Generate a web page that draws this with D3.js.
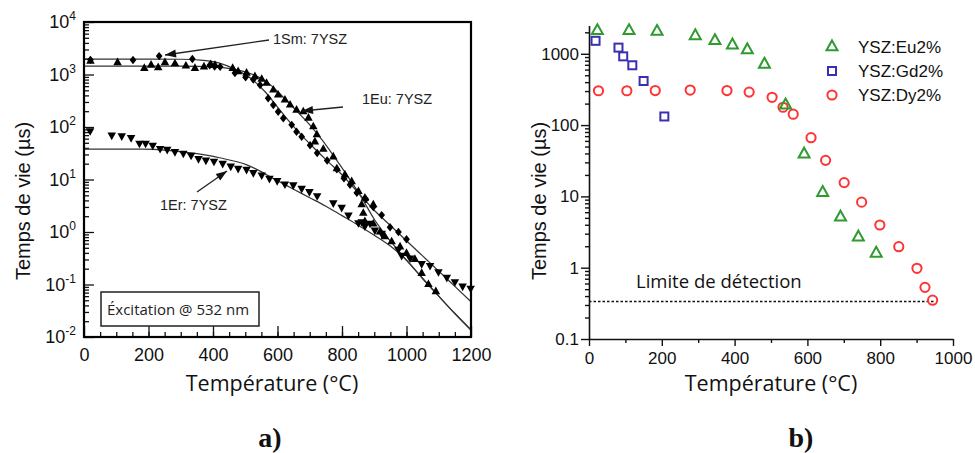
<!DOCTYPE html>
<html><head><meta charset="utf-8">
<script src="https://cdn.jsdelivr.net/npm/d3@7"></script>
<style>body{margin:0;background:#fff}svg{display:block}</style>
</head><body>
<svg id="c" width="975" height="453"></svg>
<script>
// ---------- Panel a data ----------
const smT   = [20,152,233,336,390,405,422,468,501,525,546,571,587,602,618,644,659,675,701,723,754,784,806,825,846,874,897,923,949,975,1000];
const smTau = [1900,1890,2240,1970,1500,1420,1400,1070,885,800,630,352,262,195,147,110,81,65,45,32,23,15.6,10.5,7.9,5.6,4.2,3.0,2.1,1.23,1.0,0.73];
const euT   = [20,104,187,208,230,251,282,316,344,372,393,406,461,478,504,530,551,566,587,602,623,639,659,680,696,711,716,722,742,773,784,809,830,851,861,866,871,871,897,897,918,933,954,980,1000,1026,1047,1068,1091];
const euTau = [1800,1680,1310,1510,1350,1680,1600,1450,1310,1400,1550,1500,1310,1130,1060,910,810,680,507,407,327,262,210,195,147,101,52,71,37.6,27,16,12.2,9.1,5.9,3.3,2.27,4.4,1.57,3.3,1.42,1.0,0.81,0.65,0.52,0.39,0.30,0.163,0.1,0.073];
const erT   = [19,86,117,146,172,191,213,236,258,282,308,332,355,378,403,430,455,478,504,525,551,575,599,623,649,675,699,723,773,799,820,851,861,871,887,902,923,975,985,1011,1047,1073,1099,1125,1150,1174,1199];
const erTau = [85,70,68,63,49,49,45,39,37.6,34,31.6,29,25,23.4,22.3,20.3,18,16.3,15.6,13.5,12.2,10.5,9.5,8.2,7.9,6.8,5.9,4.9,3.6,2.95,2.1,1.5,1.57,1.3,1.47,1.09,0.94,0.47,0.36,0.32,0.25,0.23,0.175,0.137,0.113,0.093,0.085];
const fitSmT   = [0,200,300,360,420,470,520,560,600,640,680,720,760,800,850,900,950,1000,1050,1100,1150,1200];
const fitSmTau = [1970,1970,1950,1880,1650,1250,820,480,240,120,64,36,21,12.3,5.6,2.6,1.33,0.68,0.35,0.18,0.092,0.047];
const fitEuT   = [0,300,400,460,500,540,580,620,660,700,740,780,820,860,900,940,970,1000,1050,1100,1150,1200];
const fitEuTau = [1450,1440,1400,1280,1120,900,620,360,200,110,55,25,11,4.6,1.75,0.8,0.48,0.29,0.13,0.06,0.028,0.0136];
const fitErT   = [0,180,260,350,420,505,600,650,700,750,800,850,900,950,1000,1050,1100,1150,1200];
const fitErTau = [38,38,36,31,26,19,9.5,6.5,4.5,3.1,2.05,1.35,0.87,0.54,0.29,0.13,0.06,0.028,0.0136];
const aXTicks = [0,200,400,600,800,1000,1200];
const aYTicks = [0.01,0.1,1,10,100,1000,10000];
const aYExp   = ["-2","-1","0","1","2","3","4"];

// ---------- Panel b data ----------
const bEuT   = [23,110,187,292,346,394,435,482,540,591,642,691,740,789];
const bEuTau = [2100,2100,2050,1780,1520,1320,1130,710,190,39,11.3,5.1,2.67,1.59];
const bGdT   = [18,81,94,119,150,207];
const bGdTau = [1520,1220,920,690,415,132];
const bDyT   = [26,104,182,278,379,440,503,533,561,610,650,701,749,799,851,901,923,944];
const bDyTau = [303,303,305,310,305,290,245,178,142,66.5,32,15.6,8.3,3.97,1.97,0.98,0.53,0.35];
const bXTicks = [0,200,400,600,800,1000];
const bYTicks = [0.1,1,10,100,1000];
const bYLabels = ["0.1","1","10","100","1000"];
const legendNames = ["YSZ:Eu2%","YSZ:Gd2%","YSZ:Dy2%"];
const detectLimit = 0.335, detectEnd = 950;

const svg = d3.select("#c");
const sans = "'Liberation Sans', Arial, sans-serif";
const cal = "'Open Sans', sans-serif";
const serif = "'Liberation Serif', serif";
const zip = (a,b)=>a.map((v,i)=>[v,b[i]]);

function triPath(w, up){ const h=w*0.9; const s=up?1:-1;
  return `M0,${-s*2*h/3}L${w/2},${s*h/3}L${-w/2},${s*h/3}Z`; }
function diaPath(s){ return `M0,${-s}L${s*0.8},0L0,${s}L${-s*0.8},0Z`; }

// ================= Panel a =================
const xa = d3.scaleLinear().domain([0,1200]).range([84,471]);
const ya = d3.scaleLog().domain([0.01,10000]).range([337,22]);
const ga = svg.append("g");

const minorA=[]; for(let e=-2;e<4;e++) for(let m=2;m<=9;m++) minorA.push(+(m*Math.pow(10,e)).toPrecision(3));
ga.append("g").attr("transform","translate(84,0)")
  .call(d3.axisLeft(ya).tickValues(minorA).tickSizeInner(-5).tickSizeOuter(0).tickFormat(""))
  .call(g=>g.select(".domain").remove());
ga.append("g").attr("transform","translate(84,0)")
  .call(d3.axisLeft(ya).tickValues(aYTicks).tickSizeInner(-10).tickSizeOuter(0).tickPadding(8))
  .call(g=>g.select(".domain").remove())
  .call(g=>g.selectAll(".tick text").text(null).attr("font-family",sans).attr("font-size",18).attr("fill","#111")
    .each(function(d,i){ const t=d3.select(this);
      t.append("tspan").text("10");
      t.append("tspan").attr("dy",-8).attr("font-size",12).text(aYExp[i]); }));
const minorXA=d3.range(50,1200,50);
ga.append("g").attr("transform","translate(0,337)")
  .call(d3.axisBottom(xa).tickValues(minorXA).tickSizeInner(-5).tickSizeOuter(0).tickFormat(""))
  .call(g=>g.select(".domain").remove());
ga.append("g").attr("transform","translate(0,337)")
  .call(d3.axisBottom(xa).tickValues(aXTicks).tickSizeInner(-11).tickSizeOuter(0).tickPadding(11).tickFormat(d3.format("d")))
  .call(g=>g.select(".domain").remove())
  .call(g=>g.selectAll(".tick text").attr("font-family",sans).attr("font-size",18).attr("fill","#111"));
ga.selectAll(".tick line").attr("stroke","#111").attr("stroke-width",1.3);

// fits
const lineA = d3.line().x(d=>xa(d[0])).y(d=>ya(d[1])).curve(d3.curveMonotoneX);
[[fitSmT,fitSmTau],[fitEuT,fitEuTau],[fitErT,fitErTau]].forEach(([t,v])=>{
  ga.append("path").attr("d",lineA(zip(t,v))).attr("fill","none").attr("stroke","#333").attr("stroke-width",1.2);
});
// points
ga.selectAll(".sm").data(zip(smT,smTau)).join("path")
  .attr("transform",d=>`translate(${xa(d[0])},${ya(d[1])})`).attr("d",diaPath(4.2)).attr("fill","#000");
ga.selectAll(".eu").data(zip(euT,euTau)).join("path")
  .attr("transform",d=>`translate(${xa(d[0])},${ya(d[1])})`).attr("d",triPath(8.5,true)).attr("fill","#000");
ga.selectAll(".er").data(zip(erT,erTau)).join("path")
  .attr("transform",d=>`translate(${xa(d[0])},${ya(d[1])})`).attr("d",triPath(8.5,false)).attr("fill","#000");

// frame
ga.append("rect").attr("x",84).attr("y",22).attr("width",387).attr("height",315)
  .attr("fill","none").attr("stroke","#000").attr("stroke-width",2.2);

// annotations
function arrow(g,x1,y1,x2,y2){
  g.append("line").attr("x1",x1).attr("y1",y1).attr("x2",x2).attr("y2",y2).attr("stroke","#222").attr("stroke-width",1.3);
  const a=Math.atan2(y2-y1,x2-x1), L=11, W=4;
  const bx=x2-L*Math.cos(a), by=y2-L*Math.sin(a);
  g.append("path").attr("d",`M${x2},${y2}L${bx+W*Math.sin(a)},${by-W*Math.cos(a)}L${bx-W*Math.sin(a)},${by+W*Math.cos(a)}Z`).attr("fill","#111");
}
const ann=[["1Sm: 7YSZ",273,44],["1Eu: 7YSZ",362,104],["1Er: 7YSZ",160,210]];
ann.forEach(([t,x,y])=>ga.append("text").attr("x",x).attr("y",y).attr("font-family",sans).attr("font-size",14.5).attr("fill","#222").text(t));
arrow(ga,269,40,165,55);
arrow(ga,343,107,302,111);
arrow(ga,197,192,227,171);

ga.append("rect").attr("x",101).attr("y",292).attr("width",158).attr("height",34).attr("fill","#fff").attr("stroke","#222").attr("stroke-width",1.5);
ga.append("text").attr("x",107).attr("y",315).attr("font-family",cal).attr("font-size",15).attr("fill","#222").text("Éxcitation @ 532 nm");

ga.append("text").attr("transform","translate(30,201) rotate(-90)").attr("text-anchor","middle")
  .attr("font-family",sans).attr("font-size",20).attr("fill","#111").text("Temps de vie (µs)");
ga.append("text").attr("x",272).attr("y",391).attr("text-anchor","middle").attr("font-family",cal).attr("font-size",21.5).attr("fill","#111").text("Température (°C)");
ga.append("text").attr("x",270).attr("y",447).attr("text-anchor","middle").attr("font-family",serif).attr("font-weight","bold").attr("font-size",28).attr("fill","#111").text("a)");

// ================= Panel b =================
const xb = d3.scaleLinear().domain([0,1000]).range([589,953]);
const yb = d3.scaleLog().domain([0.1,2500]).range([339,25.4]);
const gb = svg.append("g");
const minorB=[]; for(let e=-1;e<4;e++) for(let m=2;m<=9;m++){const v=+(m*Math.pow(10,e)).toPrecision(3); if(v<=2500) minorB.push(v);}
gb.append("g").attr("transform","translate(589,0)")
  .call(d3.axisLeft(yb).tickValues(minorB).tickSize(4).tickFormat(""))
  .call(g=>g.select(".domain").remove());
gb.append("g").attr("transform","translate(589,0)")
  .call(d3.axisLeft(yb).tickValues(bYTicks).tickSizeInner(8).tickSizeOuter(0).tickPadding(2).tickFormat((d,i)=>bYLabels[i]))
  .call(g=>g.selectAll(".tick text").attr("font-family",sans).attr("font-size",17).attr("fill","#111"));
gb.append("g").attr("transform","translate(0,339)")
  .call(d3.axisBottom(xb).tickValues(d3.range(100,1000,200)).tickSize(4).tickFormat(""))
  .call(g=>g.select(".domain").remove());
gb.append("g").attr("transform","translate(0,339)")
  .call(d3.axisBottom(xb).tickValues(bXTicks).tickSizeInner(7).tickSizeOuter(0).tickPadding(6).tickFormat(d3.format("d")))
  .call(g=>g.selectAll(".tick text").attr("font-family",sans).attr("font-size",17).attr("fill","#111"));
gb.selectAll(".domain").attr("stroke","#111").attr("stroke-width",1.6);
gb.selectAll(".tick line").attr("stroke","#111").attr("stroke-width",1.4);

gb.append("line").attr("x1",xb(0)).attr("x2",xb(detectEnd)).attr("y1",yb(detectLimit)).attr("y2",yb(detectLimit))
  .attr("stroke","#111").attr("stroke-width",1.5).attr("stroke-dasharray","2.5,2");
gb.append("text").attr("x",636).attr("y",288).attr("font-family",cal).attr("font-size",18.5).attr("fill","#111").text("Limite de détection");

const green="#2f9a2f", blue="#3b2fb0", red="#ff3333";
gb.selectAll(".bd").data(zip(bDyT,bDyTau)).join("circle")
  .attr("cx",d=>xb(d[0])).attr("cy",d=>yb(d[1])).attr("r",4.6).attr("fill","none").attr("stroke",red).attr("stroke-width",2);
gb.selectAll(".bg").data(zip(bGdT,bGdTau)).join("rect")
  .attr("x",d=>xb(d[0])-4).attr("y",d=>yb(d[1])-4).attr("width",8).attr("height",8).attr("fill","none").attr("stroke",blue).attr("stroke-width",2);
gb.selectAll(".be").data(zip(bEuT,bEuTau)).join("path")
  .attr("transform",d=>`translate(${xb(d[0])},${yb(d[1])})`).attr("d",triPath(11,true)).attr("fill","none").attr("stroke",green).attr("stroke-width",2);

// legend
const ly=[47,71,95];
gb.append("path").attr("transform",`translate(832,${ly[0]})`).attr("d",triPath(11,true)).attr("fill","none").attr("stroke",green).attr("stroke-width",2);
gb.append("rect").attr("x",828).attr("y",ly[1]-4).attr("width",8).attr("height",8).attr("fill","none").attr("stroke",blue).attr("stroke-width",2);
gb.append("circle").attr("cx",832).attr("cy",ly[2]).attr("r",4.6).attr("fill","none").attr("stroke",red).attr("stroke-width",2);
legendNames.forEach((n,i)=>gb.append("text").attr("x",858).attr("y",ly[i]).attr("dy","0.35em")
  .attr("font-family",sans).attr("font-size",17).attr("fill","#111").text(n));

gb.append("text").attr("transform","translate(546,201) rotate(-90)").attr("text-anchor","middle")
  .attr("font-family",sans).attr("font-size",20).attr("fill","#111").text("Temps de vie (µs)");
gb.append("text").attr("x",771).attr("y",391).attr("text-anchor","middle").attr("font-family",cal).attr("font-size",21.5).attr("fill","#111").text("Température (°C)");
gb.append("text").attr("x",801).attr("y",447).attr("text-anchor","middle").attr("font-family",serif).attr("font-weight","bold").attr("font-size",28).attr("fill","#111").text("b)");
</script>
</body></html>
